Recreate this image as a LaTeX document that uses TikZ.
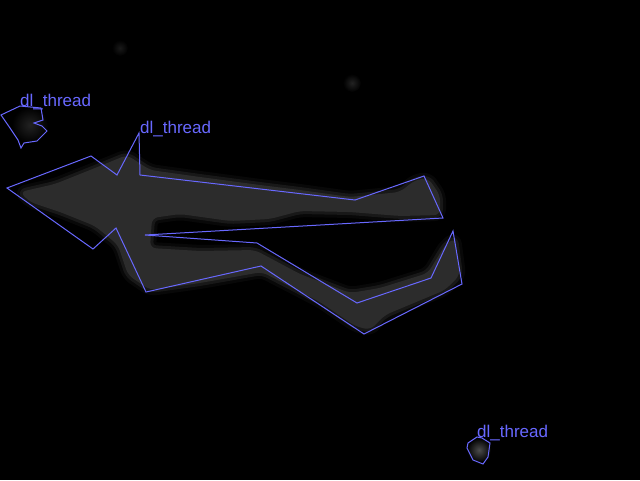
\documentclass[tikz,border=0pt]{standalone}
\usepackage{fontspec}
\setmainfont{Liberation Sans}
\usepackage{xcolor}
\usepackage{tikz}
\usetikzlibrary{shapes,positioning}
\definecolor{boxBlue}{RGB}{104,104,255}
\definecolor{blobGray}{RGB}{44,44,44}
\definecolor{faintGray}{RGB}{34,34,34}
\tikzset{box-line/.style={draw=boxBlue, line width=1pt, line join=miter}}
\tikzset{blob-soft/.style={draw=blobGray, line join=round, rounded corners=6pt}}
\tikzset{box-label/.style={text=boxBlue, inner sep=0, anchor=base west, font=\fontsize{17}{17}\selectfont}}
\newcommand{\blobpath}{(20,192) -- (55,184) -- (95,168) -- (127,155) -- (150,170) -- (200,177) -- (260,185) -- (300,190) -- (350,197) -- (400,192) -- (415,180) -- (428,178) -- (440,195) -- (440,215) -- (400,216) -- (350,212) -- (300,211) -- (270,219) -- (230,221) -- (180,214) -- (152,218) -- (150,248) -- (200,251) -- (255,250) -- (300,274) -- (350,293) -- (380,288) -- (428,273) -- (445,245) -- (455,238) -- (460,275) -- (445,290) -- (385,315) -- (370,330) -- (355,326) -- (320,302) -- (262,272) -- (200,283) -- (150,290) -- (128,275) -- (118,245) -- (95,226) -- (60,212) -- (30,202) -- cycle}

\begin{document}
\begin{tikzpicture}[x=1pt, y=-1pt]
    \fill[black] (0,0) rectangle (640,480);
    \useasboundingbox (0,0) rectangle (640,480);

    % gray blob, soft edge
    \draw[blob-soft, line width=12pt, opacity=0.2] \blobpath;
    \draw[blob-soft, line width=6pt, opacity=0.45] \blobpath;
    \fill[blobGray, rounded corners=6pt] \blobpath;

    % faint spots
    \shade[inner color=faintGray, outer color=black] (352,83) circle (9);
    \shade[inner color=black!90!white, outer color=black] (120,48) circle (8);
    \shade[inner color=faintGray, outer color=black] (30,125) circle (18);
    \shade[inner color=black!70!white, outer color=black] (479,450) circle (12);

    % outlines
    \draw[box-line] (1,115) -- (20,106) -- (41,108) -- (43,120) -- (34,123) -- (42,126) -- (47,131) -- (37,141) -- (24,143) -- (21,148) -- (18,140) -- (10,128) -- cycle;
    \draw[box-line] (139,133) -- (140,175) -- (355,200) -- (424,176) -- (443,218) -- (145,235) -- (257,243) -- (357,303) -- (431,278) -- (453,231) -- (462,284) -- (364,334) -- (261,266) -- (146,292) -- (116,228) -- (93,249) -- (7,188) -- (91,156) -- (117,175) -- cycle;
    \draw[box-line] (477,437) -- (468,443) -- (467,448) -- (473,460) -- (483,464) -- (488,457) -- (490,443) -- (482,438) -- cycle;

    % labels
    \node[box-label] (label1) at (20,106) {dl\_thread};
    \node[box-label] (label2) at (140,133) {dl\_thread};
    \node[box-label] (label3) at (477,437) {dl\_thread};
\end{tikzpicture}
\end{document}
